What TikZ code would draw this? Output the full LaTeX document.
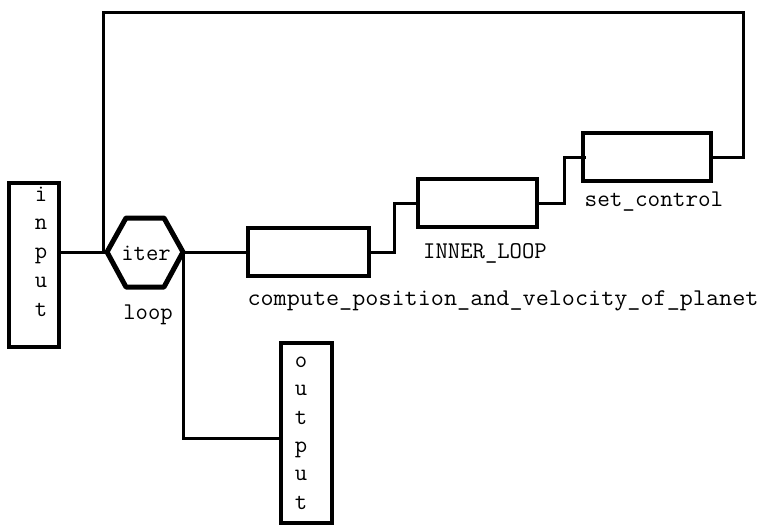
\documentclass[tikz,border=0pt]{standalone}
\usepackage{graphicx}
\begin{document}
\begin{tikzpicture}[x=1pt,y=-1pt,
  box/.style={draw, line width=4pt, inner sep=0pt},
  wire/.style={line width=3pt},
  hexline/.style={line width=5pt, line join=round},
  lbl/.style={font=\fontsize{24}{24}\selectfont\ttfamily, anchor=base, inner sep=0pt}]
\useasboundingbox (0,0) rectangle (762,525);

% boxes
\node[box, minimum width=50pt, minimum height=164pt] (in) at (34,265) {};
\node[box, minimum width=121pt, minimum height=48pt] (comp) at (308.5,252) {};
\node[box, minimum width=119pt, minimum height=48pt] (inner) at (477.5,203) {};
\node[box, minimum width=128pt, minimum height=48pt] (setc) at (647,157) {};
\node[box, minimum width=51pt, minimum height=180pt] (out) at (306.5,433) {};

% hexagon
\coordinate (hl) at (107,252);
\coordinate (hr) at (183,252);
\coordinate (ht1) at (126,218);
\coordinate (ht2) at (164,218);
\coordinate (hb1) at (126,287);
\coordinate (hb2) at (164,287);
\draw[hexline] (hl) -- (ht1) -- (ht2) -- (hr) -- (hb2) -- (hb1) -- cycle;

% labels
\node[lbl] (iterlbl) at (146,260) {iter};
\node[lbl] (looplbl) at (148,319) {loop};
\node[lbl] (complbl) at (503,305) {\scalebox{1.06}[1]{compute\_position\_and\_velocity\_of\_planet}};
\node[lbl] (innerlbl) at (485,258) {INNER\_LOOP};
\node[lbl] (setclbl) at (654,206) {\scalebox{1.02}[1]{set\_control}};
\foreach \c [count=\k from 0] in {i,n,p,u,t}
  \node[lbl] (inl\k) at (41,201+28.75*\k) {\c};
\foreach \c [count=\k from 0] in {o,u,t,p,u,t}
  \node[lbl] (outl\k) at (301,367.5+28.3*\k) {\c};

% connectors
\coordinate (j) at (103,252);
\coordinate (tr) at (743,12);
\coordinate (ol) at (281,438);
\draw[wire] (in.east |- hl) -- (hl);
\draw[wire] (hr) -- (comp.west |- hr);
\draw[wire] (comp.east) -- ++(23,0) |- (inner.west);
\draw[wire] (inner.east) -- ++(25,0) |- ([xshift=5pt]setc.west);
\draw[wire] (setc.east) -| (tr) -| (j);
\draw[wire] (hr) |- (ol);
\end{tikzpicture}
\end{document}
